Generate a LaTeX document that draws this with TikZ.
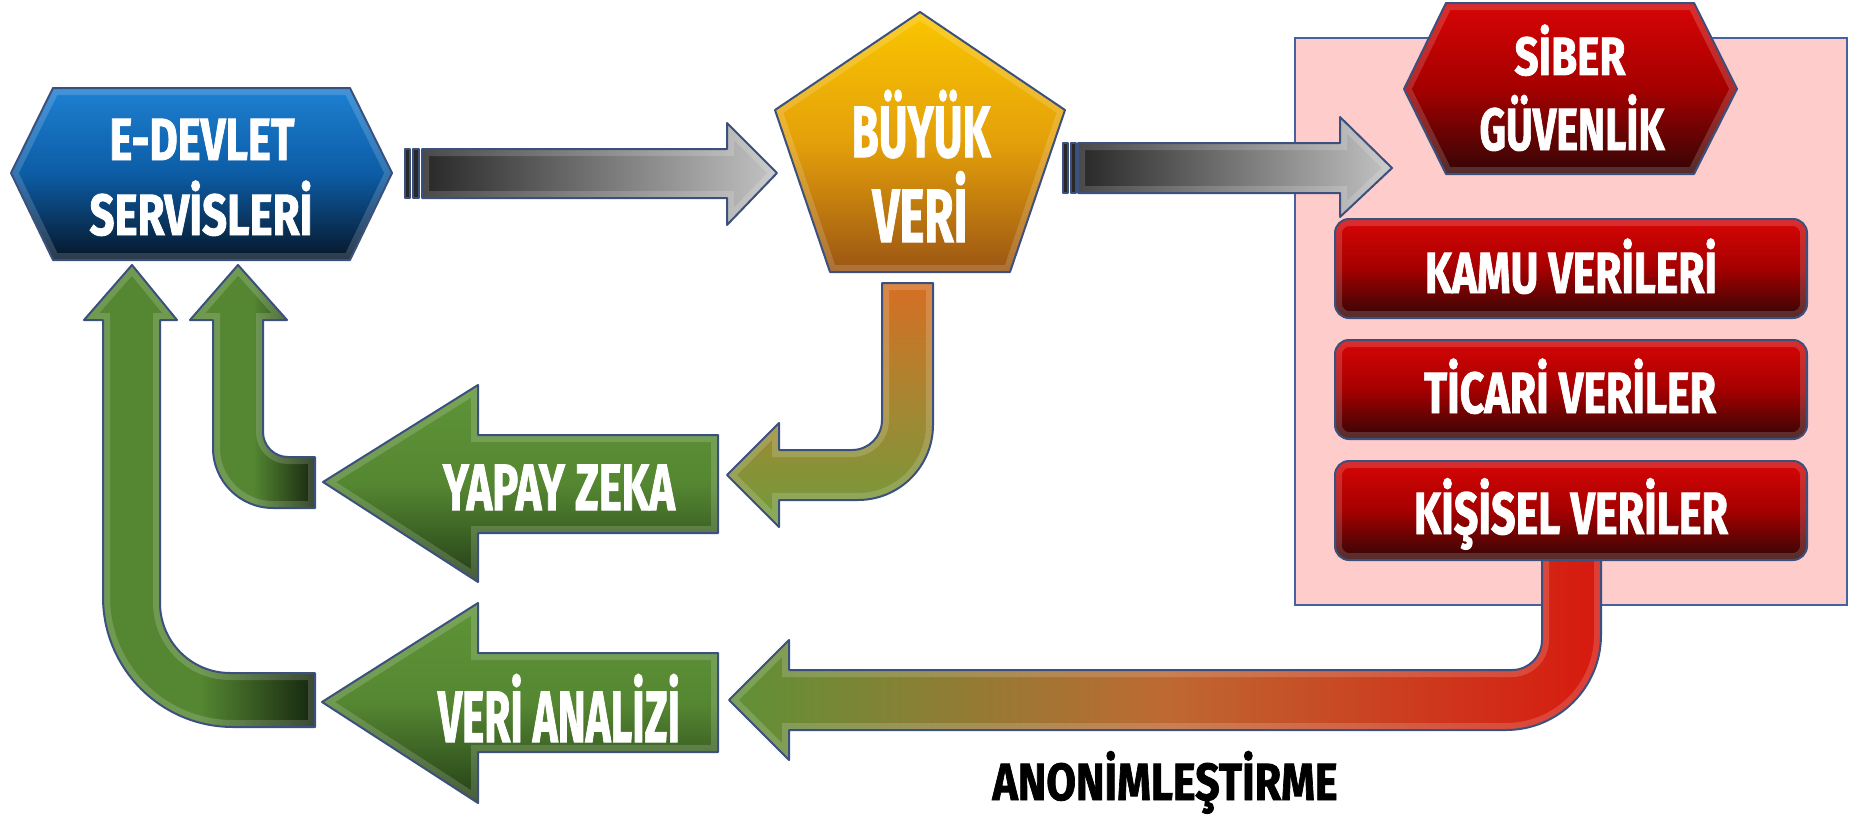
\documentclass[tikz,border=0pt]{standalone}
\usepackage{fontspec}
\usepackage{graphicx}
\newfontfamily\cf{Fira Sans}[FakeBold=1.6]
\definecolor{pinkbg}{RGB}{255,204,204}
\definecolor{rectln}{RGB}{68,98,160}
\definecolor{gdark}{RGB}{40,40,40}
\definecolor{glight}{RGB}{195,195,195}
\definecolor{btop}{RGB}{30,128,210}
\definecolor{bmid}{RGB}{12,92,165}
\definecolor{bbot}{RGB}{6,22,40}
\definecolor{ytop}{RGB}{250,198,0}
\definecolor{ymid}{RGB}{228,160,10}
\definecolor{ybot}{RGB}{155,85,20}
\definecolor{rtop}{RGB}{215,5,5}
\definecolor{rmid}{RGB}{165,0,0}
\definecolor{rbot}{RGB}{50,5,5}
\definecolor{orangeA}{RGB}{215,110,35}
\definecolor{oliveA}{RGB}{165,135,50}
\definecolor{ogreen}{RGB}{110,155,60}
\definecolor{grn}{RGB}{85,135,50}
\definecolor{grndk}{RGB}{22,38,15}
\definecolor{grnlt}{RGB}{95,148,55}
\definecolor{grndkb}{RGB}{35,62,22}
\definecolor{lgreen}{RGB}{95,145,55}
\definecolor{lorange}{RGB}{190,105,50}
\definecolor{lred}{RGB}{215,25,15}
\definecolor{outlc}{RGB}{60,80,125}
\tikzset{outl/.style={draw=outlc, line width=1pt, line join=round},
  lbl/.style={anchor=base, inner sep=0pt, text=white}}
\newcommand\bvshape[2]{%
  \path[#1] #2;
  \begin{scope}\clip #2; \draw[line width=7pt, white, opacity=0.16] #2; \end{scope}
  \draw[outl] #2;
}
\newcommand\tx[3]{\resizebox{#1pt}{\height}{\fontsize{#2pt}{#2pt}\selectfont\cf\bfseries #3}}
\begin{document}
\begin{tikzpicture}[x=0.5pt,y=-0.5pt]
\useasboundingbox (0,0) rectangle (1860,819);
\fill[white] (0,0) rectangle (1860,819);

% pink panel
\draw[fill=pinkbg, draw=rectln, line width=0.9pt] (1295,38) rectangle (1847,605);

% gray arrow 1
\bvshape{left color=gdark, right color=glight}{(422,149) -- (727,149) -- (727,123) -- (777,173) -- (727,225) -- (727,198) -- (422,198) -- cycle}
\path[outl, fill=gdark] (405,149) rectangle (410,198);
\path[outl, fill=gdark] (413,149) rectangle (419,198);

% gray arrow 2
\bvshape{left color=gdark, right color=glight}{(1078,143) -- (1340,143) -- (1340,117) -- (1392,168) -- (1340,217) -- (1340,193) -- (1078,193) -- cycle}
\path[outl, fill=gdark] (1063,143) rectangle (1068,193);
\path[outl, fill=gdark] (1071,143) rectangle (1076,193);

% E-DEVLET hexagon
\bvshape{top color=btop, bottom color=bbot, middle color=bmid}{(11,173) -- (53,88) -- (350,88) -- (392,173) -- (350,260) -- (53,260) -- cycle}

% BUYUK VERI pentagon
\bvshape{top color=ytop, bottom color=ybot, middle color=ymid}{(920,12) -- (1065,110) -- (1010,272) -- (830,272) -- (775,110) -- cycle}

% SIBER hexagon
\bvshape{top color=rtop, bottom color=rbot, middle color=rmid}{(1404,89) -- (1446,3) -- (1694,3) -- (1737,89) -- (1694,174) -- (1446,174) -- cycle}

% orange bent arrow
\bvshape{top color=orangeA, bottom color=ogreen, middle color=oliveA}{(727,475) -- (779,423) -- (779,450) -- (852,450) .. controls (868.6,450) and (882,436.6) .. (882,420) -- (882,283) -- (933,283) -- (933,425) .. controls (933,466.4) and (899.4,500) .. (858,500) -- (779,500) -- (779,527) -- cycle}

% left green bent arrows
\bvshape{left color=grn, right color=grndk, middle color=grn}{(238,265) -- (287,320) -- (263,320) -- (263,432) .. controls (263,445.8) and (274.2,457) .. (288,457) -- (315,457) -- (315,508) -- (273,508) .. controls (239.9,508) and (213,481.1) .. (213,448) -- (213,320) -- (190,320) -- cycle}
\bvshape{left color=grn, right color=grndk, middle color=grn}{(132,265) -- (177,320) -- (160,320) -- (160,603) .. controls (160,641.6) and (191.4,673) .. (230,673) -- (315,673) -- (315,727) -- (233,727) .. controls (161.2,727) and (103,668.8) .. (103,597) -- (103,320) -- (84,320) -- cycle}

% YAPAY ZEKA and VERI ANALIZI arrows
\bvshape{top color=grnlt, bottom color=grndkb, middle color=grn}{(323,482) -- (478,385) -- (478,435) -- (718,435) -- (718,533) -- (478,533) -- (478,582) -- cycle}
\bvshape{top color=grnlt, bottom color=grndkb, middle color=grn}{(322,702) -- (478,603) -- (478,653) -- (718,653) -- (718,752) -- (478,752) -- (478,803) -- cycle}

% long red-to-green arrow
\bvshape{left color=lgreen, right color=lred, middle color=lorange}{(729,700) -- (789,640) -- (789,670) -- (1512,670) .. controls (1528.6,670) and (1542,656.6) .. (1542,640) -- (1542,540) -- (1601,540) -- (1601,635) .. controls (1601,687.5) and (1558.5,730) .. (1506,730) -- (789,730) -- (789,760) -- cycle}

% red boxes
\bvshape{top color=rtop, bottom color=rbot, middle color=rmid}{(1335,219) [rounded corners=7pt] rectangle (1807,318)}
\bvshape{top color=rtop, bottom color=rbot, middle color=rmid}{(1335,340) [rounded corners=7pt] rectangle (1807,439)}
\bvshape{top color=rtop, bottom color=rbot, middle color=rmid}{(1335,461) [rounded corners=7pt] rectangle (1807,560)}

% labels
\node[lbl] (edev1) at (202,160) {\tx{92.5}{29.75}{E-DEVLET}};
\node[lbl] (edev2) at (201,235) {\tx{111.5}{29}{SERVİSLERİ}};
\node[lbl] (buyuk1) at (921,157) {\tx{69.5}{36.3}{BÜYÜK}};
\node[lbl] (buyuk2) at (920,242) {\tx{47.5}{37.7}{VERİ}};
\node[lbl] (siber1) at (1570,75) {\tx{55.5}{26.9}{SİBER}};
\node[lbl] (siber2) at (1572,150) {\tx{92.5}{29.75}{GÜVENLİK}};
\node[lbl] (kamu) at (1571,293) {\tx{146}{29}{KAMU VERİLERİ}};
\node[lbl] (ticari) at (1570,413) {\tx{146}{29}{TİCARİ VERİLER}};
\node[lbl] (kisisel) at (1571,534) {\tx{157}{29.75}{KİŞİSEL VERİLER}};
\node[lbl] (yapay) at (559,510) {\tx{116}{32.7}{YAPAY ZEKA}};
\node[lbl] (analiz) at (559,742) {\tx{121}{36.3}{VERİ ANALİZİ}};
\node[lbl, text=black] (anonim) at (1165,800) {\tx{172.5}{26.1}{ANONİMLEŞTİRME}};
\end{tikzpicture}
\end{document}
